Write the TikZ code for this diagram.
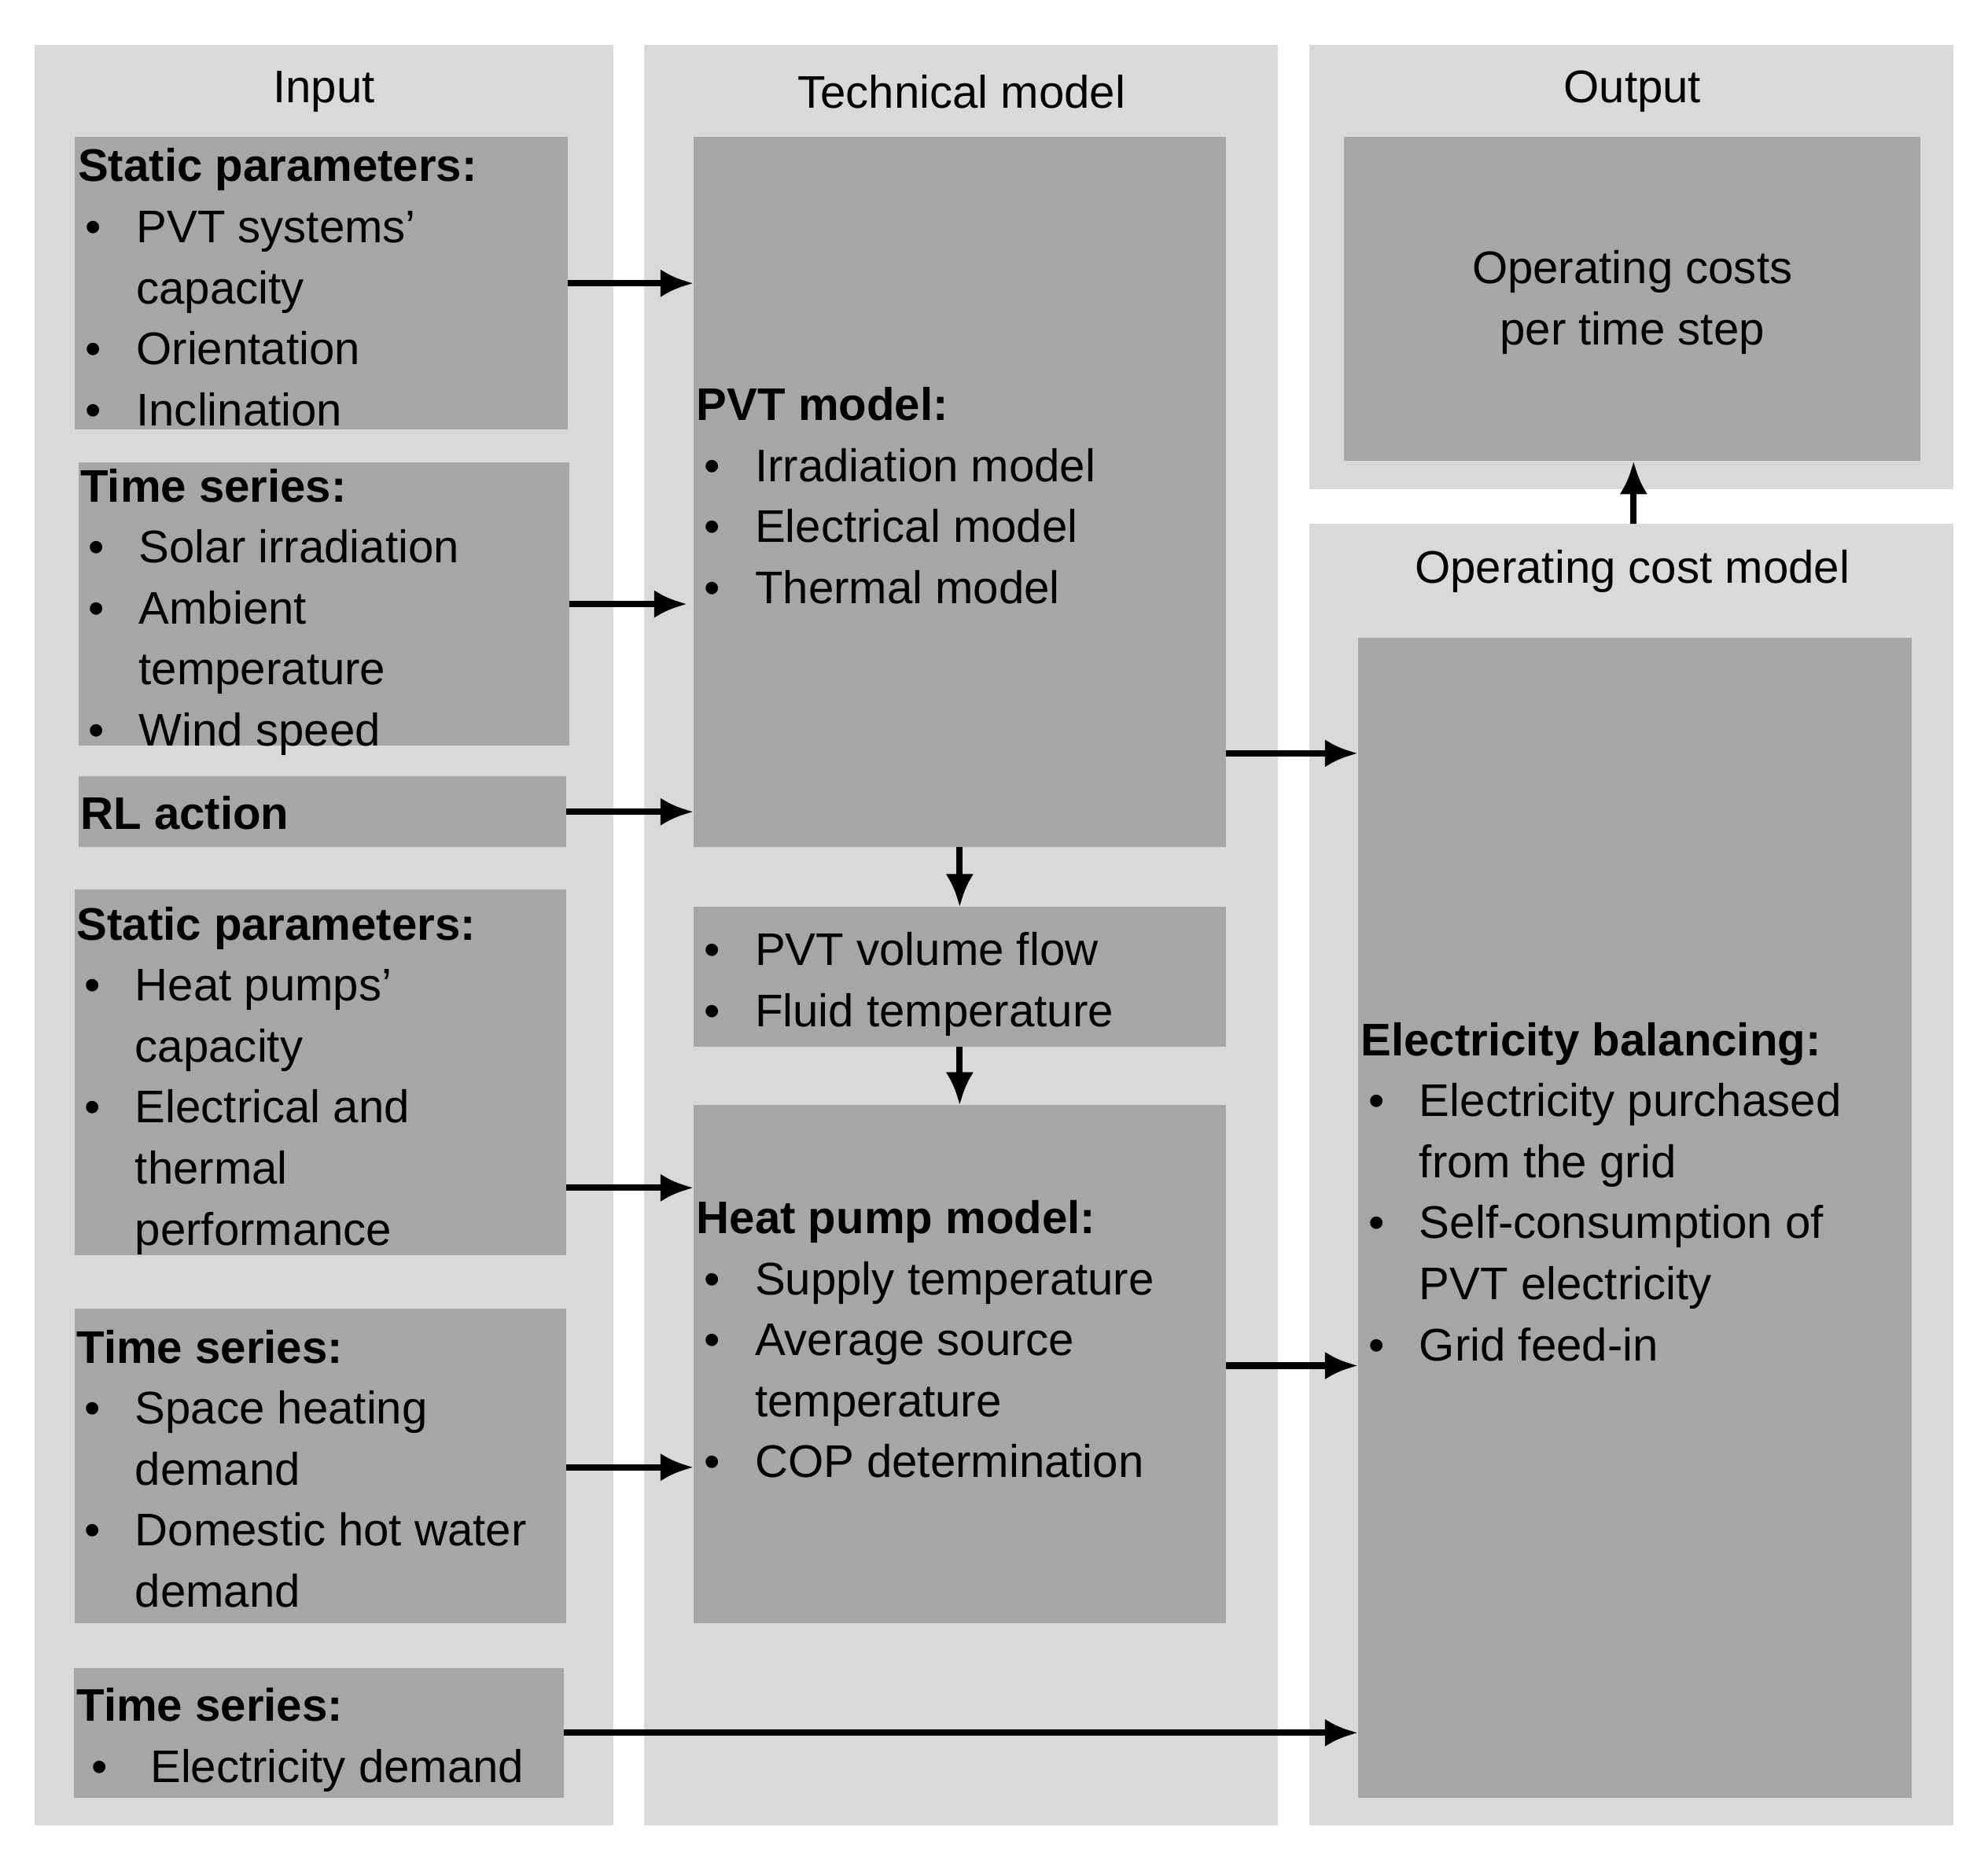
\documentclass[tikz,border=0pt]{standalone}
\usepackage{fontspec}
\setmainfont{Liberation Sans}
\usetikzlibrary{arrows.meta}
\definecolor{lightp}{HTML}{D9D9D9}
\definecolor{darkb}{HTML}{A6A6A6}
\newcommand{\bx}[6]{\node[#6,minimum width={(#4-#2)*0.5pt},minimum height={(#5-#3)*0.5pt}] (#1) at ({(#2+#4)/2},{(#3+#5)/2}) {};}
\newcommand{\bl}{\hspace{3pt}\makebox[20pt][l]{\textbullet}}
\newcommand{\cn}{\hspace{23pt}}
\begin{document}
\begin{tikzpicture}[x=0.5pt,y=-0.5pt,
  panel/.style={fill=lightp,draw=none,inner sep=0,outer sep=0},
  box/.style={fill=darkb,draw=none,inner sep=0,outer sep=0},
  txt/.style={anchor=north west,inner sep=0,align=left,font=\fontsize{18}{24}\selectfont},
  ttl/.style={inner sep=0,font=\fontsize{18}{24}\selectfont},
  arr/.style={line width=2.5pt,-{Latex[length=13pt,width=11pt]}}]
\useasboundingbox (0,0) rectangle (1565,1461);
\bx{pin}{27}{35}{483}{1437}{panel}
\bx{ptech}{507}{35}{1006}{1437}{panel}
\bx{pout}{1031}{35}{1538}{385}{panel}
\bx{pcost}{1031}{412}{1538}{1437}{panel}
\node[ttl] (tin) at (255,72) {Input};
\node[ttl] (ttech) at (757,72) {Technical model};
\node[ttl] (tout) at (1285,72) {Output};
\node[ttl] (tcost) at (1285,450) {Operating cost model};
\bx{s1}{59}{108}{447}{338}{box}
\bx{t1}{62}{364}{448}{587}{box}
\bx{rl}{62}{611}{446}{667}{box}
\bx{s2}{59}{700}{446}{988}{box}
\bx{t2}{59}{1030}{446}{1278}{box}
\bx{t3}{58}{1313}{444}{1415}{box}
\bx{pvt}{546}{108}{965}{667}{box}
\bx{flow}{546}{714}{965}{824}{box}
\bx{hp}{546}{870}{965}{1278}{box}
\bx{oc}{1058}{108}{1512}{363}{box}
\bx{el}{1069}{502}{1505}{1415}{box}
\node[txt] (xs1) at (61,109) {\strut\textbf{Static parameters:}\\\strut\bl PVT systems’\\\strut\cn capacity\\\strut\bl Orientation\\\strut\bl Inclination};
\node[txt] (xt1) at (63,361) {\strut\textbf{Time series:}\\\strut\bl Solar irradiation\\\strut\bl Ambient\\\strut\cn temperature\\\strut\bl Wind speed};
\node[txt] (xrl) at (63,619) {\strut\textbf{RL action}};
\node[txt] (xs2) at (60,706) {\strut\textbf{Static parameters:}\\\strut\bl Heat pumps’\\\strut\cn capacity\\\strut\bl Electrical and\\\strut\cn thermal\\\strut\cn performance};
\node[txt] (xt2) at (60,1039) {\strut\textbf{Time series:}\\\strut\bl Space heating\\\strut\cn demand\\\strut\bl Domestic hot water\\\strut\cn demand};
\node[txt] (xt3) at (60,1321) {\strut\textbf{Time series:}\\\strut\hspace{6pt}\makebox[23pt][l]{\textbullet}Electricity demand};
\node[txt] (xpvt) at (548,297) {\strut\textbf{PVT model:}\\\strut\bl Irradiation model\\\strut\bl Electrical model\\\strut\bl Thermal model};
\node[txt] (xflow) at (548,726) {\strut\bl PVT volume flow\\\strut\bl Fluid temperature};
\node[txt] (xhp) at (548,937) {\strut\textbf{Heat pump model:}\\\strut\bl Supply temperature\\\strut\bl Average source\\\strut\cn temperature\\\strut\bl COP determination};
\node[ttl,align=center] (xoc) at (1285,238) {Operating costs\\per time step};
\node[txt] (xel) at (1071,797) {\strut\textbf{Electricity balancing:}\\\strut\bl Electricity purchased\\\strut\cn from the grid\\\strut\bl Self-consumption of\\\strut\cn PVT electricity\\\strut\bl Grid feed-in};
\draw[arr] (s1.east) -- (pvt.west |- s1.east);
\draw[arr] (t1.east) -- ([xshift=-2.5pt]pvt.west |- t1.east);
\draw[arr] (rl.east) -- (pvt.west |- rl.east);
\draw[arr] (pvt.east |- 0,593) -- (el.west |- 0,593);
\draw[arr] (pvt.south) -- (flow.north);
\draw[arr] (flow.south) -- (hp.north);
\draw[arr] (s2.east |- 0,935) -- (hp.west |- 0,935);
\draw[arr] (t2.east |- 0,1155) -- (hp.west |- 0,1155);
\draw[arr] (hp.east |- 0,1075) -- (el.west |- 0,1075);
\draw[arr] (t3.east |- 0,1364) -- (el.west |- 0,1364);
\draw[arr] (pcost.north -| 1286,0) -- (oc.south -| 1286,0);
\end{tikzpicture}
\end{document}
